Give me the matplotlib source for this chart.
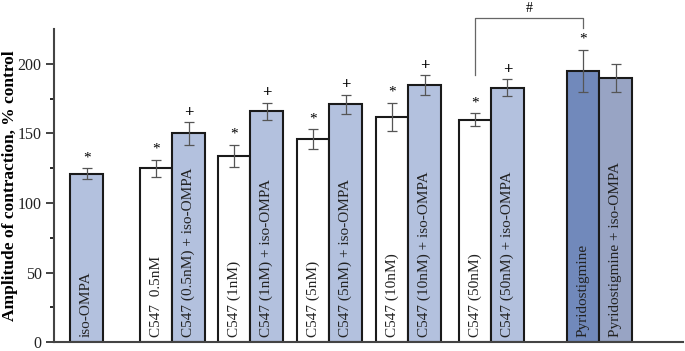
import matplotlib.pyplot as plt
import numpy as np

plt.rcParams['font.family'] = ['Liberation Serif', 'DejaVu Serif']

# bar data
labels = ['iso-OMPA',
          'C547  0.5nM', 'C547 (0.5nM) + iso-OMPA',
          'C547 (1nM)', 'C547 (1nM) + iso-OMPA',
          'C547 (5nM)', 'C547 (5nM) + iso-OMPA',
          'C547 (10nM)', 'C547 (10nM) + iso-OMPA',
          'C547 (50nM)', 'C547 (50nM) + iso-OMPA',
          'Pyridostigmine', 'Pyridostigmine + iso-OMPA']
xpos = [1.0, 3.14, 4.14, 5.54, 6.54, 7.97, 8.97, 10.4, 11.4, 12.95, 13.95, 16.28, 17.28]
values = [121, 125, 150, 134, 166, 146, 171, 162, 185, 160, 183, 195, 190]
errors = [4, 6, 8, 8, 6, 7, 7, 10, 7, 4.5, 6, 15, 10]
marks = ['*', '*', '+', '*', '+', '*', '+', '*', '+', '*', '+', '*', '']

light = '#b3c1de'
colors = [light, 'white', light, 'white', light, 'white', light,
          'white', light, 'white', light, '#7189bb', '#98a4c4']

fig = plt.figure(figsize=(6.85, 3.51), dpi=100)
ax = fig.add_axes([0.079, 0.025, 0.918, 0.892])

ax.bar(xpos, values, width=1.0, color=colors, edgecolor='#1a1a1a', linewidth=1.5, zorder=2)
ax.errorbar(xpos, values, yerr=errors, fmt='none', ecolor='#555555',
            elinewidth=0.9, capsize=3.5, capthick=0.9, zorder=3)

for x, v, e, m, lab in zip(xpos, values, errors, marks, labels):
    if m:
        ax.annotate(m, (x, v + e), xytext=(0, 3 if m == '*' else 1), textcoords='offset points',
                    ha='center', va='bottom', fontsize=11 if m == '*' else 12,
                    fontweight='bold' if m == '+' else 'normal', annotation_clip=False)
    ax.text(x, 4, lab, rotation=90, ha='center', va='bottom', fontsize=11, color='#222222', zorder=4)

# significance bracket between 50nM and pyridostigmine
xl, xr = xpos[9], xpos[11]
ax.plot([xl, xl, xr, xr], [192, 233, 233, 226], color='#666666', lw=0.9, clip_on=False)
ax.text((xl + xr) / 2, 235, '#', ha='center', va='bottom', fontsize=10, clip_on=False)

ax.set_xlim(0, 19.35)
ax.set_ylim(0, 225)
ax.set_yticks([0, 50, 100, 150, 200])
ax.set_yticks(np.arange(25, 225, 50), minor=True)
ax.tick_params(axis='y', which='major', length=6, width=1.2, direction='out', labelsize=11.5,
               colors='#222222', pad=3)
ax.tick_params(axis='y', which='minor', length=3, width=1.2, direction='out')
ax.set_xticks([])
for s in ['top', 'right']:
    ax.spines[s].set_visible(False)
for s in ['left', 'bottom']:
    ax.spines[s].set_linewidth(1.5)
    ax.spines[s].set_color('#444444')
ax.set_ylabel('Amplitude of contraction, % control', fontsize=12.5, fontweight='bold')
ax.yaxis.set_label_coords(-0.057, 0.5)

fig.savefig('out.png', dpi=100)
